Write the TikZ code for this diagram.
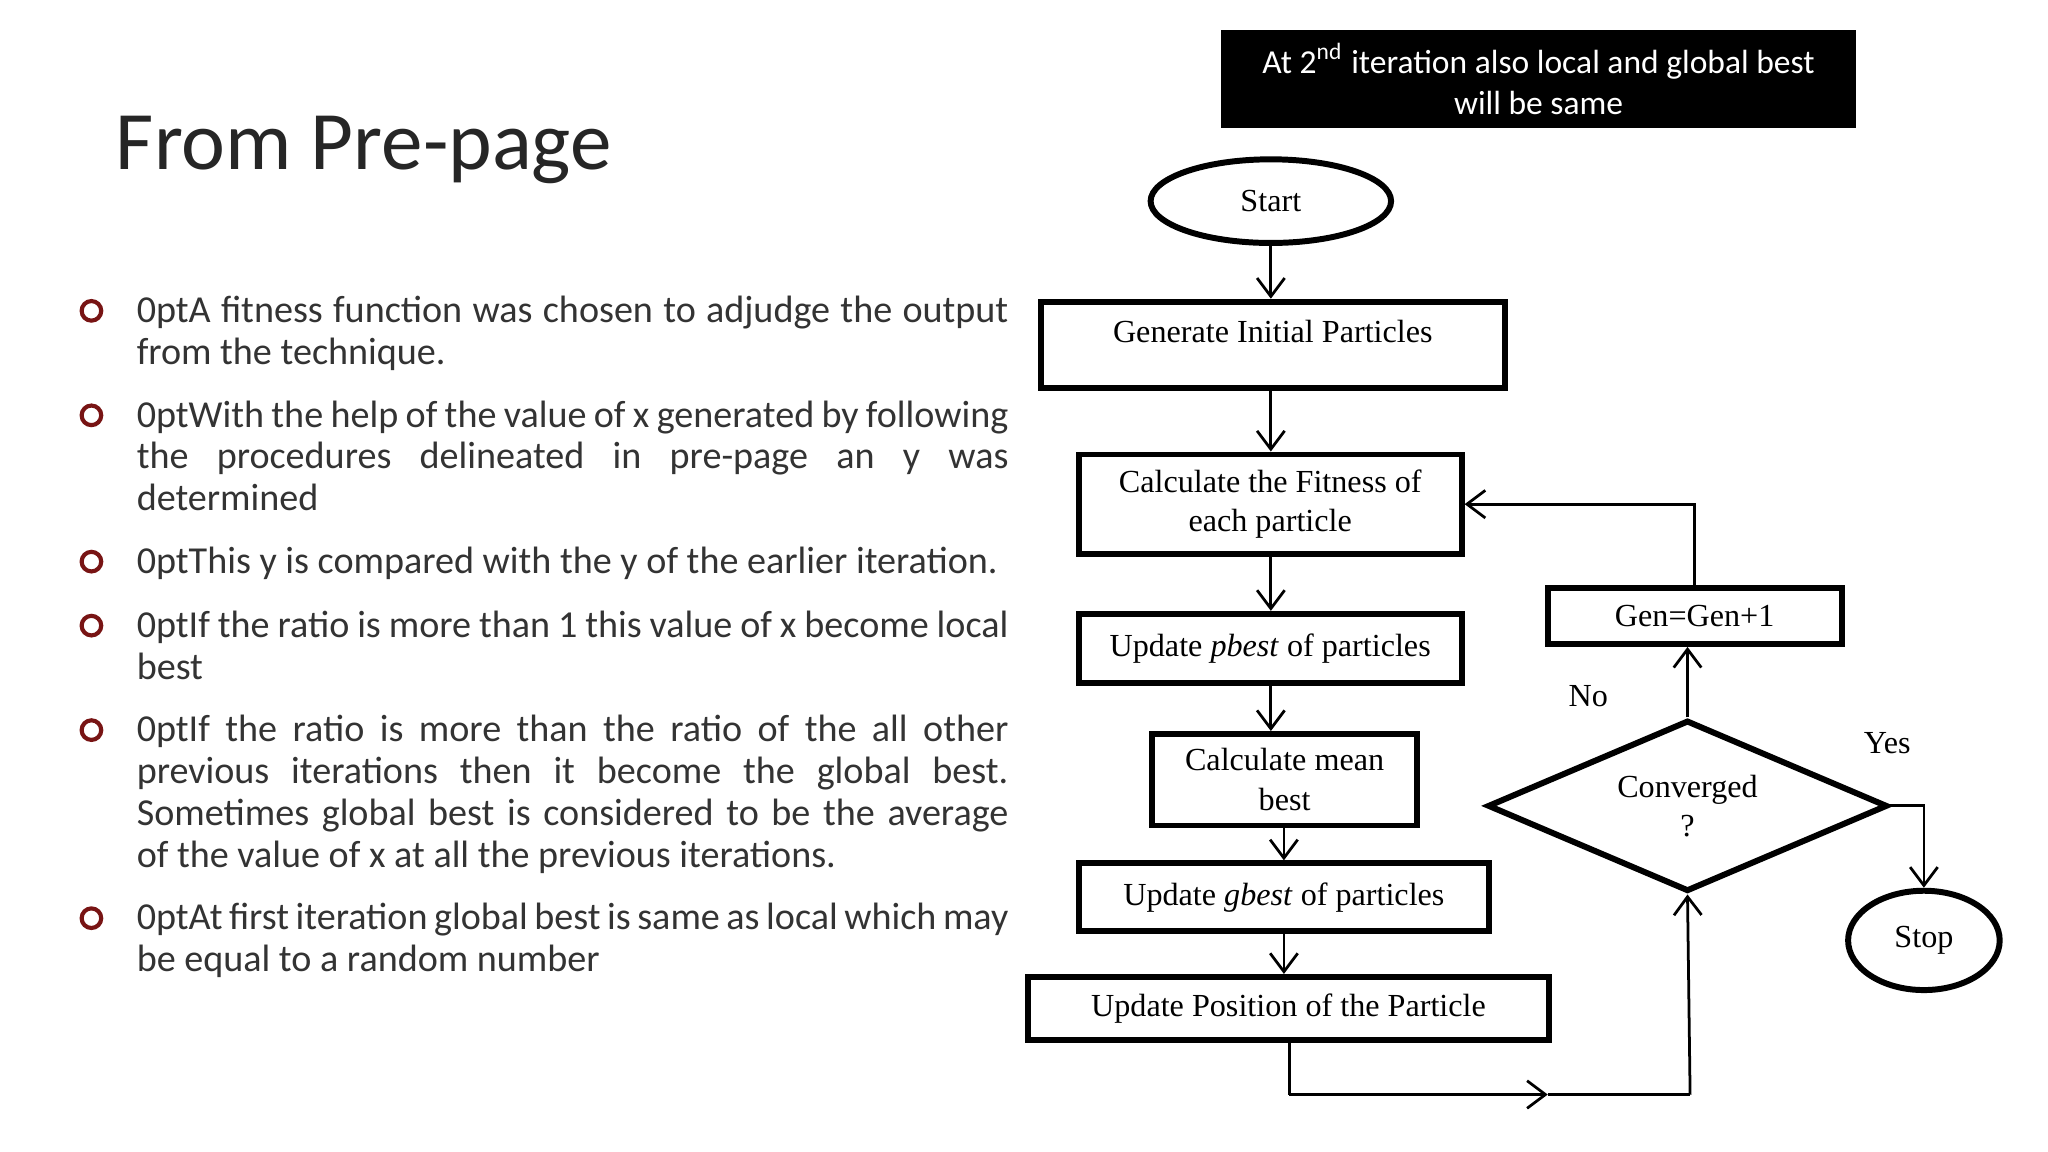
\documentclass[tikz,border=0pt]{standalone}
\usepackage{fontspec}
\setmainfont{Carlito}
\newfontfamily\fcfont{Liberation Serif}
\usetikzlibrary{shapes.geometric,arrows.meta}
\definecolor{bulred}{RGB}{120,20,20}
\tikzset{
 box/.style={draw,line width=1.3pt,inner sep=0pt,font=\fcfont\fontsize{7}{8.6}\selectfont,align=center},
 arr/.style={line width=0.6pt,-{Straight Barb[length=4pt,width=6pt]}},
 ln/.style={line width=0.6pt},
 btxt/.style={anchor=north west,inner sep=0pt,text width=6.67cm,align=justify,font=\fontsize{8.3}{9.1}\selectfont\hyphenpenalty=10000,text=black!80},
 bul/.style={draw=bulred,line width=0.9pt,circle,minimum size=0.15cm,inner sep=0pt}
}
\begin{document}
\begin{tikzpicture}[x=0.01cm,y=-0.01cm]
\useasboundingbox (0,0) rectangle (1568,882);
\fill[white] (0,0) rectangle (1568,882);
\node[anchor=base west,inner sep=0pt,font=\fontsize{18.1}{20}\selectfont,text=black!85] (title) at (88,130) {From Pre-page};
% bullets
\foreach \y/\t [count=\i] in {
 246/{A fitness function was chosen to adjudge the output\linebreak from the technique.},
 326/{With the help of the value of x generated by following\linebreak the procedures delineated in pre-page an y was\linebreak determined},
 438/{This y is compared with the y of the earlier iteration.},
 487/{If the ratio is more than 1 this value of x become local\linebreak best},
 567/{If the ratio is more than the ratio of the all other\linebreak previous iterations then it become the global best.\linebreak Sometimes global best is considered to be the average\linebreak of the value of x at all the previous iterations.},
 711/{At first iteration global best is same as local which may\linebreak be equal to a random number}}{
 \node[bul] (b\i) at (70,\y-8) {};
 \node[btxt] (t\i) at (104,\y-20) {\t\par};
}
% note box
\node[fill=black,text=white,minimum width=4.86cm,minimum height=0.75cm,inner sep=0pt,align=center,font=\fontsize{7.3}{9}\selectfont] (note) at (1178,60.5) {At 2\textsuperscript{nd} iteration also local and global best\\will be same};
% flowchart
\node[box,ellipse,minimum width=1.84cm,minimum height=0.64cm] (start) at (973,154) {Start};
\node[box,minimum width=3.55cm,minimum height=0.66cm] (gen) at (974.5,264) {\raisebox{0.2cm}{Generate Initial Particles}};
\node[box,minimum width=2.93cm,minimum height=0.76cm] (fit) at (972.5,386) {Calculate the Fitness of\\each particle};
\node[box,minimum width=2.93cm,minimum height=0.53cm] (pb) at (972.5,496.5) {Update \textit{pbest} of particles};
\node[box,minimum width=2.03cm,minimum height=0.70cm] (mean) at (983.5,597) {Calculate mean\\best};
\node[box,minimum width=3.14cm,minimum height=0.52cm] (gb) at (983,687) {Update \textit{gbest} of particles};
\node[box,minimum width=3.99cm,minimum height=0.48cm] (pos) at (986.5,772) {Update Position of the Particle};
\node[box,minimum width=2.25cm,minimum height=0.43cm] (inc) at (1297.5,471.5) {Gen=Gen+1};
\node[box,diamond,aspect=2.34,minimum width=3.06cm,minimum height=1.31cm] (conv) at (1292,617) {Converged\\?};
\node[box,ellipse,minimum width=1.16cm,minimum height=0.76cm] (stop) at (1473,720) {Stop};
\node[font=\fcfont\fontsize{7}{8}\selectfont] (no) at (1216,533) {No};
\node[font=\fcfont\fontsize{7}{8}\selectfont] (yes) at (1445,569) {Yes};
\coordinate (c1) at (987,838);
\coordinate (c2) at (1294,838);
\coordinate (cm) at (1185,838);
\draw[arr] (start) -- (gen.north -| start);
\draw[arr] (gen.south -| start) -- (fit.north -| start);
\draw[arr] (fit.south -| start) -- (pb.north -| start);
\draw[arr] (pb.south -| start) -- (mean.north -| start);
\draw[arr] (mean.south -| gb) -- (gb.north);
\draw[arr] (gb.south) -- (gb.south |- pos.north);
\draw[ln] (pos.south -| c1) -- (c1);
\draw[arr] (c1) -- (cm);
\draw[ln] (cm) -- (c2);
\draw[arr] (c2) -- (conv.south);
\draw[arr] (conv.north) -- (inc.south -| conv.north);
\draw[arr] (inc.north) |- (fit.east);
\draw[arr] (conv.east) -| (stop.north);
\end{tikzpicture}
\end{document}
